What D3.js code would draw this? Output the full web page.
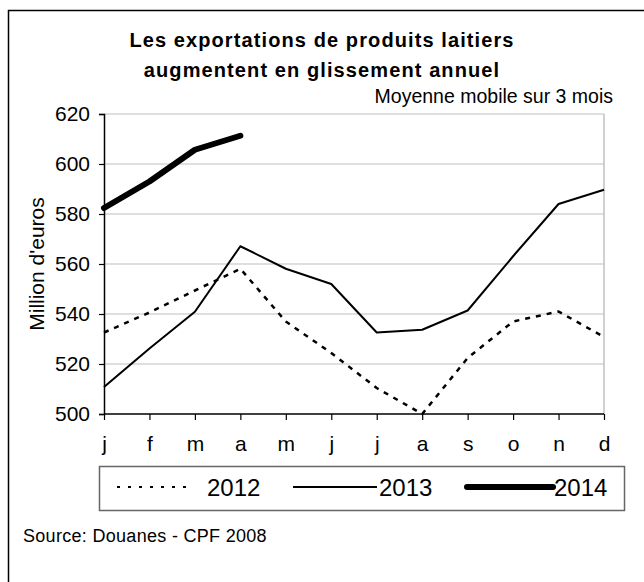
<!DOCTYPE html>
<html>
<head>
<meta charset="utf-8">
<script src="https://cdn.jsdelivr.net/npm/d3@7"></script>
<style>
  body { margin: 0; background: #fff; }
  text { font-family: "Liberation Sans", Arial, sans-serif; fill: #000; }
</style>
</head>
<body>
<div id="chart"></div>
<script>
const months = ['j', 'f', 'm', 'a', 'm', 'j', 'j', 'a', 's', 'o', 'n', 'd'];
const yTicks = [500, 520, 540, 560, 580, 600, 620];
const years = ['2012', '2013', '2014'];
const s2012 = [532.6, 540.6, 549.4, 558.1, 537.0, 524.4, 510.4, 500.0, 522.4, 537.0, 541.0, 530.8];
const s2013 = [510.8, 526.2, 540.9, 567.1, 558.1, 552.0, 532.6, 533.7, 541.4, 563.1, 584.0, 589.7];
const s2014 = [582.4, 593.0, 605.7, 611.3];

const width = 644;
const height = 582;
const plot = {left: 104, right: 604, top: 114, bottom: 414};

const styles = {
  '2012': {width: 2.5, dash: '5,6', cap: 'butt'},
  '2013': {width: 2, dash: null, cap: 'butt'},
  '2014': {width: 6, dash: null, cap: 'round'},
};

const svg = d3.select('#chart')
  .append('svg')
  .attr('width', width)
  .attr('height', height);

// outer frame (runs off the right and bottom edges)
svg.append('rect')
  .attr('x', 8.5)
  .attr('y', 10.5)
  .attr('width', 700)
  .attr('height', 700)
  .attr('fill', 'none')
  .attr('stroke', '#000')
  .attr('stroke-width', 1.5);

const x = d3.scalePoint()
  .domain(d3.range(months.length))
  .range([plot.left, plot.right]);
const y = d3.scaleLinear()
  .domain([500, 620])
  .range([plot.bottom, plot.top]);

// grid
svg.append('g')
  .selectAll('line')
  .data(yTicks.slice(1))
  .join('line')
  .attr('x1', plot.left)
  .attr('x2', plot.right)
  .attr('y1', d => y(d))
  .attr('y2', d => y(d))
  .attr('stroke', '#c0c0c0')
  .attr('stroke-width', 1.2);
svg.append('line')
  .attr('x1', plot.right)
  .attr('x2', plot.right)
  .attr('y1', plot.top)
  .attr('y2', plot.bottom)
  .attr('stroke', '#c0c0c0')
  .attr('stroke-width', 1.5);

// axes
const yAxis = d3.axisLeft(y).tickValues(yTicks).tickSize(5).tickPadding(9);
svg.append('g')
  .attr('transform', `translate(${plot.left},0)`)
  .call(yAxis)
  .call(g => {
    g.select('.domain').attr('stroke-width', 1.5);
    g.selectAll('.tick line').attr('stroke-width', 1.2);
    g.selectAll('text').style('font-size', '21px').attr('font-family', null);
  });

const xAxis = d3.axisBottom(x).tickSize(6).tickPadding(16).tickFormat(i => months[i]);
svg.append('g')
  .attr('transform', `translate(0,${plot.bottom})`)
  .call(xAxis)
  .call(g => {
    g.select('.domain').attr('d', `M${plot.left},0H${plot.right}`).attr('stroke-width', 1.5);
    g.selectAll('.tick line').attr('stroke-width', 1.2);
    g.selectAll('text').style('font-size', '21px').attr('font-family', null);
  });

svg.append('text')
  .attr('transform', `translate(44,264) rotate(-90)`)
  .attr('text-anchor', 'middle')
  .style('font-size', '21px')
  .text("Million d'euros");

// series
const line = d3.line()
  .x((d, i) => x(i))
  .y(d => y(d));

const series = [
  {key: '2012', values: s2012},
  {key: '2013', values: s2013},
  {key: '2014', values: s2014},
];

svg.append('g')
  .selectAll('path')
  .data(series)
  .join('path')
  .attr('d', d => line(d.values))
  .attr('fill', 'none')
  .attr('stroke', '#000')
  .attr('stroke-width', d => styles[d.key].width)
  .attr('stroke-dasharray', d => styles[d.key].dash)
  .attr('stroke-linecap', d => styles[d.key].cap)
  .attr('stroke-linejoin', 'round');

// titles
svg.append('text')
  .attr('x', 322)
  .attr('y', 47)
  .attr('text-anchor', 'middle')
  .style('font-size', '20px')
  .style('font-weight', 'bold')
  .style('letter-spacing', '1.1px')
  .text('Les exportations de produits laitiers');
svg.append('text')
  .attr('x', 322)
  .attr('y', 77)
  .attr('text-anchor', 'middle')
  .style('font-size', '20px')
  .style('font-weight', 'bold')
  .style('letter-spacing', '1.1px')
  .text('augmentent en glissement annuel');
svg.append('text')
  .attr('x', 613)
  .attr('y', 103)
  .attr('text-anchor', 'end')
  .style('font-size', '19.5px')
  .text('Moyenne mobile sur 3 mois');

// legend
const legend = svg.append('g');
legend.append('rect')
  .attr('x', 99.5)
  .attr('y', 466.5)
  .attr('width', 525)
  .attr('height', 44)
  .attr('fill', '#fff')
  .attr('stroke', '#666')
  .attr('stroke-width', 1.5);

const legendPos = {
  '2012': {x1: 117, x2: 192, tx: 207},
  '2013': {x1: 293, x2: 377, tx: 379},
  '2014': {x1: 467, x2: 553, tx: 554},
};
years.forEach(k => {
  const p = legendPos[k];
  const st = styles[k];
  legend.append('line')
    .attr('x1', p.x1)
    .attr('x2', p.x2)
    .attr('y1', 487)
    .attr('y2', 487)
    .attr('stroke', '#000')
    .attr('stroke-width', k === '2012' ? 2 : st.width)
    .attr('stroke-dasharray', k === '2012' ? '3,8' : null)
    .attr('stroke-linecap', st.cap);
  legend.append('text')
    .attr('x', p.tx)
    .attr('y', 496)
    .style('font-size', '24px')
    .text(k);
});

svg.append('text')
  .attr('x', 23)
  .attr('y', 542)
  .style('font-size', '18px')
  .style('letter-spacing', '0.3px')
  .text('Source: Douanes - CPF 2008');
</script>
</body>
</html>
